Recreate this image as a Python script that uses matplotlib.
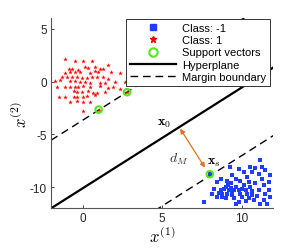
import matplotlib
matplotlib.use("Agg")
import matplotlib.pyplot as plt
import numpy as np
from matplotlib.lines import Line2D

plt.rcParams['font.family'] = ['Liberation Sans', 'DejaVu Sans']
plt.rcParams['mathtext.fontset'] = 'cm'

# Class 1 (red stars)
pos_x = [-1.10, -0.48, 0.00, 0.56, 0.15, 1.61, -0.89, -0.69, -0.33, 0.36, 0.77, 1.09, 1.29,
         -1.10, -0.79, -0.48, -0.17, 0.46, 0.77, 0.98, 1.81, 2.34, 2.96, -1.31, -1.00, -0.69,
         -0.37, -0.06, 0.25, 0.56, 0.88, 1.29, 1.61, -1.73, -1.42, -0.79, -0.48, -0.17, 0.15,
         0.46, 1.09, 1.40, 2.02, 2.65, -1.62, -1.10, -0.79, -0.48, -0.27, 0.04, 0.46, 1.09,
         1.61, 1.92, 2.34, -0.58, -0.37, -0.06, 0.36, 0.67, 0.88, 1.40, -1.52, -1.10, -0.58,
         -0.37, 0.04, 0.25, 0.77, -0.79, -0.37, 0.04, 0.46, 0.04, 1.00, 2.79]
pos_y = [2.15, 1.93, 1.93, 1.93, 1.42, 1.61, 1.20, 1.20, 1.11, 1.30, 1.36, 1.20, 1.20,
         0.79, 0.89, 0.89, 0.89, 0.79, 0.98, 0.89, 0.89, 0.79, 0.41, 0.47, 0.41, 0.41,
         0.41, 0.35, 0.35, 0.47, 0.47, 0.41, 0.25, 0.03, 0.16, 0.10, 0.03, -0.06, -0.06,
         -0.16, -0.16, -0.16, -0.06, -0.06, -0.53, -0.53, -0.53, -0.47, -0.53, -0.38, -0.53, -0.38,
         -0.60, -0.53, -0.69, -0.85, -1.01, -1.01, -0.91, -1.10, -1.10, -1.01, -1.48, -1.42, -1.42,
         -1.48, -1.42, -1.32, -1.23, -1.95, -1.80, -1.95, -1.95, -2.74, -2.65, -1.00]

# Class -1 (blue squares)
neg_x = [11.18, 9.25, 9.83, 10.56, 10.87, 11.29, 11.50, 10.14, 10.66, 11.08, 11.81, 8.68, 9.41,
         9.62, 10.35, 11.29, 11.70, 8.48, 9.10, 9.31, 9.93, 10.46, 10.87, 11.39, 9.00, 9.31,
         9.62, 10.14, 10.56, 8.68, 8.89, 9.20, 9.52, 9.83, 10.25, 10.66, 11.08, 11.70, 8.16,
         8.58, 8.79, 9.10, 9.41, 9.93, 10.35, 10.66, 10.98, 11.50, 8.48, 9.00, 9.52, 10.04,
         10.46, 10.77, 11.39, 11.81, 7.64, 9.83, 10.25, 9.62, 11.18, 11.60, 8.27, 9.41, 10.04,
         9.16, 8.79, 8.00]
neg_y = [-7.38, -8.08, -8.23, -8.08, -8.14, -8.08, -8.39, -8.55, -8.55, -8.71, -8.87, -9.18, -8.87,
         -9.18, -9.02, -9.18, -9.50, -9.50, -9.40, -9.65, -9.40, -9.50, -9.59, -9.81, -9.97, -10.03,
         -9.97, -9.81, -9.97, -10.28, -10.13, -10.28, -10.22, -10.28, -10.28, -10.35, -10.28, -10.28, -10.60,
         -10.54, -10.66, -10.60, -10.76, -10.66, -10.60, -10.76, -10.85, -10.66, -10.92, -11.07, -11.07, -10.92,
         -11.07, -11.17, -11.17, -10.92, -11.39, -11.39, -11.29, -11.55, -11.55, -11.61, -10.13, -10.44, -10.13,
         -9.81, -10.92, -8.77]

# Support vectors
sv_x = [1.00, 2.79, 8.00]
sv_y = [-2.65, -1.00, -8.77]

# Hyperplane y = slope*x + intercept, margins offset
slope = 0.953
intercept = -10.1
margin_offset = 6.45

# Arrow (x0 -> xs) and labels
x0_pt = (6.13, -4.45)
xs_pt = (7.70, -8.15)
label_x0 = (5.15, -3.8)
label_dM = (6.05, -7.3)
label_xs = (8.25, -7.55)

xlim = (-2, 12)
ylim = (-12, 6)

fig = plt.figure(figsize=(3.02, 2.51), dpi=100)
ax = fig.add_axes([51/302, 1-209.3/251, 222.3/302, 190/251])

xx = np.array(xlim, dtype=float)
ax.plot(xx, slope*xx + intercept, color='k', lw=1.6, zorder=2)
ax.plot(xx, slope*xx + intercept + margin_offset, color='k', lw=1.0, dashes=(5.5, 3.5), zorder=2)
ax.plot(xx, slope*xx + intercept - margin_offset, color='k', lw=1.0, dashes=(5.5, 3.5), zorder=2)

ax.scatter(neg_x, neg_y, marker='s', s=6, color='#1f3dff', linewidths=0, zorder=3)
ax.scatter(pos_x, pos_y, marker='*', s=12, color='#ff0000', linewidths=0, zorder=3)
ax.scatter(sv_x, sv_y, marker='o', s=22, facecolors='none', edgecolors='#55e61a', linewidths=1.5, zorder=4)

ax.annotate('', xy=xs_pt, xytext=x0_pt,
            arrowprops=dict(arrowstyle='<|-|>', color='#e07020', lw=0.9, mutation_scale=7,
                            shrinkA=0, shrinkB=0))
ax.text(*label_x0, r'$\mathbf{x}_0$', fontsize=10, ha='center', va='center')
ax.text(*label_dM, r'$d_M$', fontsize=10, ha='center', va='center', color='#333333')
ax.text(*label_xs, r'$\mathbf{x}_s$', fontsize=10, ha='center', va='center')

ax.set_xlim(*xlim)
ax.set_ylim(*ylim)
ax.set_xticks([0, 5, 10])
ax.set_yticks([-10, -5, 0, 5])
ax.set_yticklabels(['-10', '-5', '0', '5'])
ax.tick_params(direction='in', length=2.5, width=0.6, labelsize=8.5, colors='#262626', pad=3)
for s in ['top', 'right']:
    ax.spines[s].set_visible(False)
for s in ['left', 'bottom']:
    ax.spines[s].set_color('#555555')
    ax.spines[s].set_linewidth(0.8)

ax.set_xlabel(r'$x^{(1)}$', fontsize=12, labelpad=0)
ax.set_ylabel(r'$x^{(2)}$', fontsize=12, labelpad=0)

handles = [
    Line2D([], [], marker='s', linestyle='none', color='#1f3dff', markersize=4),
    Line2D([], [], marker='*', linestyle='none', color='#ff0000', markersize=5),
    Line2D([], [], marker='o', linestyle='none', markerfacecolor='none', markeredgecolor='#55e61a',
           markeredgewidth=1.5, markersize=6),
    Line2D([], [], color='k', lw=1.6),
    Line2D([], [], color='k', lw=1.0, dashes=(5.5, 3.5)),
]
labels = ['Class: -1', 'Class: 1', 'Support vectors', 'Hyperplane', 'Margin boundary']
leg = ax.legend(handles, labels, loc='upper right', bbox_to_anchor=(0.987, 0.996),
                borderaxespad=0, fontsize=8, handlelength=4.2, handletextpad=0.55,
                labelspacing=0.2, borderpad=0.35, fancybox=False, framealpha=1,
                edgecolor='#333333')
leg.get_frame().set_linewidth(0.7)

fig.savefig('out.png', dpi=100)
